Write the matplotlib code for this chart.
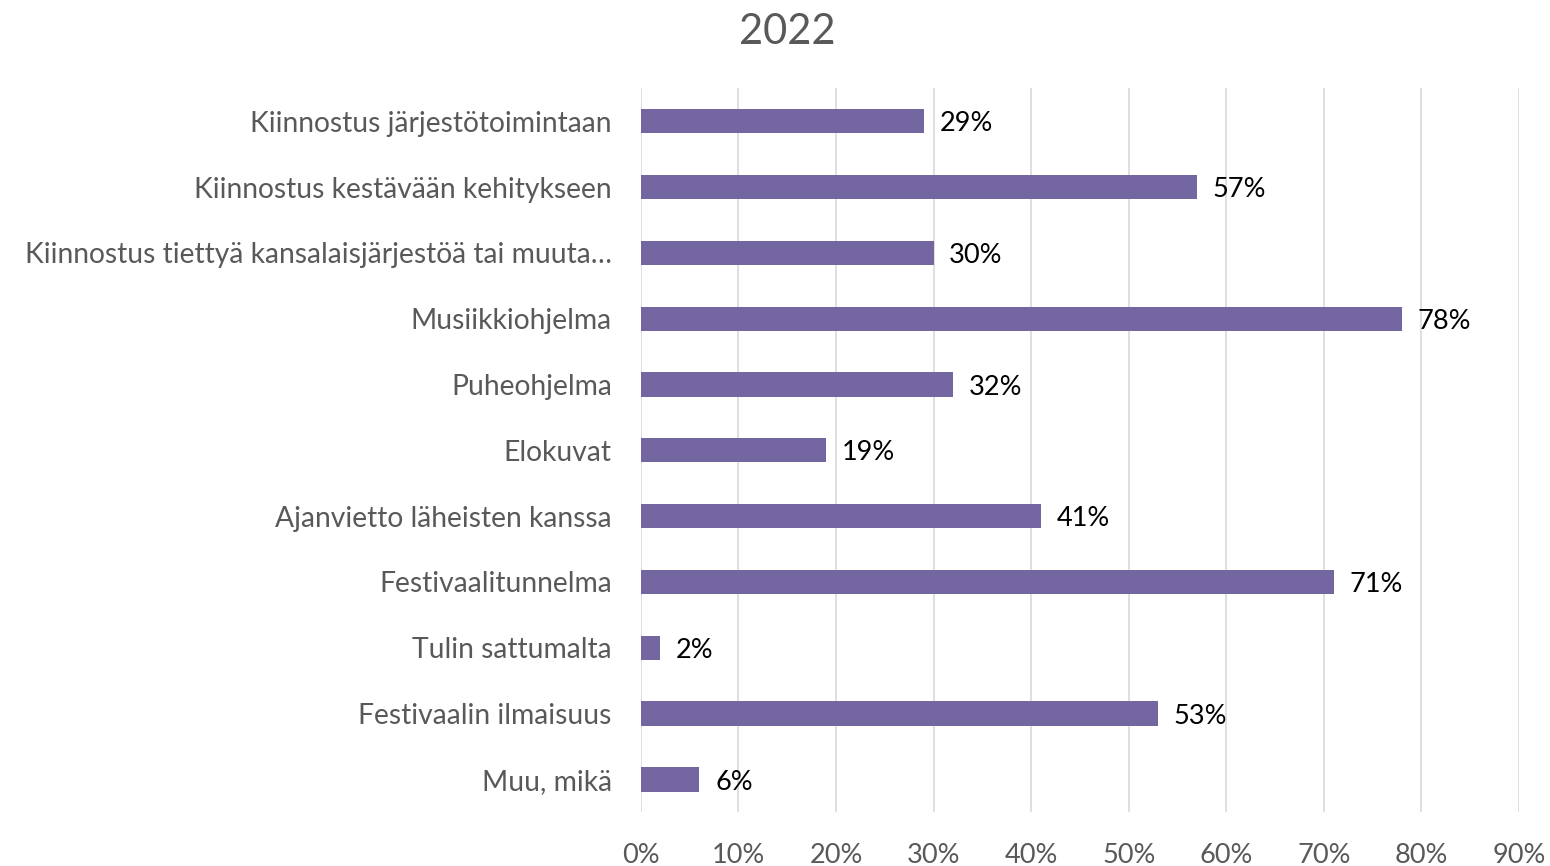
import matplotlib.pyplot as plt

plt.rcParams['font.family'] = ['Lato', 'DejaVu Sans']

# Vastausvaihtoehdot ylhäältä alas
kategoriat = [
    'Kiinnostus järjestötoimintaan',
    'Kiinnostus kestävään kehitykseen',
    'Kiinnostus tiettyä kansalaisjärjestöä tai muuta…',
    'Musiikkiohjelma',
    'Puheohjelma',
    'Elokuvat',
    'Ajanvietto läheisten kanssa',
    'Festivaalitunnelma',
    'Tulin sattumalta',
    'Festivaalin ilmaisuus',
    'Muu, mikä',
]
osuudet = [29, 57, 30, 78, 32, 19, 41, 71, 2, 53, 6]
x_tikit = [0, 10, 20, 30, 40, 50, 60, 70, 80, 90]

harmaa = '#595959'
violetti = '#7466A1'

fig = plt.figure(figsize=(15.5, 8.66), dpi=100)
ax = fig.add_axes([0.4135, 0.062, 0.5665, 0.836])

y = list(range(len(kategoriat)))
ax.barh(y, osuudet, height=0.37, color=violetti, zorder=3)

# arvot palkkien perään
for yi, v in zip(y, osuudet):
    ax.text(v + 1.6, yi + 0.04, f'{v}%', va='center', ha='left', fontsize=19.5, color='black')

ax.set_yticks(y)
ax.set_yticklabels(kategoriat, fontsize=20.3, color=harmaa)
ax.set_ylim(len(kategoriat) - 0.5, -0.5)
ax.set_xlim(0, 90)
ax.set_xticks(x_tikit)
ax.set_xticklabels([f'{t}%' for t in x_tikit], fontsize=19.5, color=harmaa)
ax.tick_params(axis='x', length=0, pad=22)
ax.tick_params(axis='y', length=0, pad=21)
ax.grid(axis='x', color='#D9D9D9', linewidth=1.2, zorder=0)
for s in ax.spines.values():
    s.set_visible(False)

fig.suptitle('2022', fontsize=30, color=harmaa, x=0.508, y=0.985)

fig.savefig('out.png', dpi=100)
